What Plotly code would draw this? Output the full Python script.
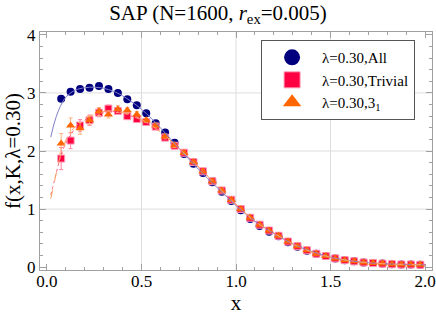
import plotly.graph_objects as go

# ---------------- data ----------------
x_pts = [0.075, 0.125, 0.175, 0.225, 0.275, 0.325, 0.375, 0.425, 0.475, 0.525,
         0.575, 0.625, 0.675, 0.725, 0.775, 0.825, 0.875, 0.925, 0.975, 1.025,
         1.075, 1.125, 1.175, 1.225, 1.275, 1.325, 1.375, 1.425, 1.475, 1.525,
         1.575, 1.625, 1.675, 1.725, 1.775, 1.825, 1.875, 1.925, 1.975]

y_all = [2.90, 3.02, 3.07, 3.09, 3.12, 3.07, 3.00, 2.89, 2.79, 2.65,
         2.48, 2.32, 2.14, 1.95, 1.78, 1.62, 1.46, 1.30, 1.14, 0.98,
         0.83, 0.71, 0.61, 0.53, 0.43, 0.35, 0.28, 0.23, 0.19, 0.15,
         0.12, 0.10, 0.08, 0.07, 0.06, 0.05, 0.045, 0.045, 0.04]

y_triv = [1.87, 2.18, 2.44, 2.53, 2.66, 2.73, 2.69, 2.60, 2.55, 2.50,
          2.42, 2.23, 2.09, 1.97, 1.81, 1.65, 1.48, 1.32, 1.16, 1.00,
          0.85, 0.73, 0.63, 0.54, 0.44, 0.36, 0.29, 0.23, 0.19, 0.15,
          0.12, 0.10, 0.08, 0.07, 0.06, 0.05, 0.045, 0.045, 0.04]
e_triv = [0.19, 0.14, 0.10, 0.09, 0.07, 0.06, 0.06, 0.05, 0.05, 0.04,
          0.04, 0.04, 0.04, 0.03, 0.03, 0.03, 0.03, 0.03, 0.03, 0.03,
          0.02, 0.02, 0.02, 0.02, 0.02, 0.02, 0.02, 0.02, 0.01, 0.01,
          0.01, 0.01, 0.01, 0.01, 0.01, 0.01, 0.01, 0.01, 0.01]

y_knot = [2.13, 2.44, 2.39, 2.53, 2.68, 2.63, 2.72, 2.70, 2.63, 2.53,
          2.44, 2.25, 2.10, 1.97, 1.81, 1.65, 1.48, 1.32, 1.16, 1.00,
          0.85, 0.73, 0.63, 0.54, 0.44, 0.36, 0.29, 0.23, 0.19, 0.15,
          0.12, 0.10, 0.08, 0.07, 0.06, 0.05, 0.045, 0.045, 0.04]
e_knot = [0.17, 0.13, 0.10, 0.08, 0.07, 0.06, 0.06, 0.05, 0.05, 0.04,
          0.04, 0.04, 0.04, 0.03, 0.03, 0.03, 0.03, 0.03, 0.03, 0.03,
          0.02, 0.02, 0.02, 0.02, 0.02, 0.02, 0.02, 0.02, 0.01, 0.01,
          0.01, 0.01, 0.01, 0.01, 0.01, 0.01, 0.01, 0.01, 0.01]

# fitted curves
x_fit = [0.02, 0.04, 0.06, 0.08, 0.10, 0.125, 0.15, 0.20, 0.25, 0.30, 0.35, 0.40,
         0.50, 0.60, 0.70, 0.80, 0.90, 1.00, 1.10, 1.20, 1.30, 1.40, 1.50, 1.60,
         1.70, 1.80, 1.90, 2.00]
fit_all = [2.24, 2.50, 2.69, 2.83, 2.93, 3.00, 3.05, 3.09, 3.10, 3.08, 3.03, 2.95,
           2.72, 2.40, 2.04, 1.69, 1.37, 1.06, 0.79, 0.58, 0.40, 0.27, 0.17, 0.11,
           0.075, 0.055, 0.045, 0.04]
fit_triv = [1.24, 1.50, 1.76, 1.98, 2.14, 2.28, 2.39, 2.53, 2.62, 2.67, 2.68, 2.65,
            2.53, 2.33, 2.04, 1.73, 1.40, 1.08, 0.79, 0.585, 0.40, 0.26, 0.17, 0.11,
            0.075, 0.055, 0.045, 0.04]
fit_knot = [1.18, 1.48, 1.78, 2.02, 2.19, 2.33, 2.42, 2.55, 2.63, 2.68, 2.69, 2.66,
            2.54, 2.33, 2.04, 1.73, 1.40, 1.08, 0.79, 0.585, 0.40, 0.26, 0.17, 0.11,
            0.075, 0.055, 0.045, 0.04]

labels = ["λ=0.30,All", "λ=0.30,Trivial", "λ=0.30,3<sub>1</sub>"]
title_text = "SAP (N=1600, <i>r</i><sub>ex</sub>=0.005)"
x_title = "x"
y_title = "f(x,K,λ=0.30)"
x_ticks = [0.0, 0.5, 1.0, 1.5, 2.0]
y_ticks = [0, 1, 2, 3, 4]
grid_x = [0.5, 1.0, 1.5]
grid_y = [1, 2, 3]

BLUE = "#00007f"
RED = "#ff0040"
ORANGE = "#ff6600"
SERIF = "Times New Roman"

fig = go.Figure()

# markers
fig.add_trace(go.Scatter(x=x_pts, y=y_all, mode="markers", showlegend=False,
                         marker=dict(symbol="circle", size=8, color=BLUE)))
fig.add_trace(go.Scatter(x=x_pts, y=y_triv, mode="markers", showlegend=False,
                         error_y=dict(type="data", array=e_triv, color="#ff80a0",
                                      thickness=1, width=2),
                         marker=dict(symbol="square", size=7, color=RED,
                                     line=dict(color="#ff99b3", width=1))))
fig.add_trace(go.Scatter(x=x_pts, y=y_knot, mode="markers", showlegend=False,
                         error_y=dict(type="data", array=e_knot, color="#ffb080",
                                      thickness=1, width=2),
                         marker=dict(symbol="triangle-up", size=8, color=ORANGE)))

# fit curves
fig.add_trace(go.Scatter(x=x_fit, y=fit_all, mode="lines", showlegend=False,
                         line=dict(color="#8080c8", width=1, shape="spline")))
fig.add_trace(go.Scatter(x=x_fit, y=fit_triv, mode="lines", showlegend=False,
                         line=dict(color="#ff6080", width=1, dash="dot", shape="spline")))
fig.add_trace(go.Scatter(x=x_fit, y=fit_knot, mode="lines", showlegend=False,
                         line=dict(color="#ffa060", width=1, dash="dash", shape="spline")))

# legend entries
fig.add_trace(go.Scatter(x=[None], y=[None], mode="markers", name=labels[0],
                         marker=dict(symbol="circle", size=20, color=BLUE)))
fig.add_trace(go.Scatter(x=[None], y=[None], mode="markers", name=labels[1],
                         marker=dict(symbol="square", size=20, color=RED,
                                     line=dict(color="#ff99b3", width=1))))
fig.add_trace(go.Scatter(x=[None], y=[None], mode="markers", name=labels[2],
                         marker=dict(symbol="triangle-up", size=20, color=ORANGE)))

# grid lines
for gx in grid_x:
    fig.add_shape(type="line", xref="x", yref="paper", x0=gx, x1=gx, y0=0, y1=1,
                  line=dict(color="#dddddd", width=1), layer="below")
for gy in grid_y:
    fig.add_shape(type="line", xref="paper", yref="y", x0=0, x1=1, y0=gy, y1=gy,
                  line=dict(color="#dddddd", width=1), layer="below")

axis_common = dict(showgrid=False, zeroline=False, showline=True, linecolor="#a0a0a0",
                   linewidth=1, mirror="ticks", ticks="inside", ticklen=6,
                   tickcolor="#a0a0a0", automargin=False,
                   tickfont=dict(family=SERIF, size=17, color="black"))

fig.update_xaxes(range=[-0.037, 2.037], tickvals=x_ticks,
                 ticktext=[f"{v:.1f}" for v in x_ticks],
                 ticklabelstandoff=-4,
                 minor=dict(dtick=0.1, ticks="inside", ticklen=3, tickcolor="#a0a0a0"),
                 title=dict(text=x_title, font=dict(family=SERIF, size=21, color="black"),
                            standoff=2),
                 **axis_common)
fig.update_yaxes(range=[-0.05, 4.05], tickvals=y_ticks,
                 minor=dict(dtick=0.2, ticks="inside", ticklen=3, tickcolor="#a0a0a0"),
                 title=dict(text=y_title, font=dict(family=SERIF, size=21, color="black"),
                            standoff=0),
                 **axis_common)

fig.update_layout(
    width=436, height=321,
    margin=dict(l=40, r=4, t=32, b=51),
    paper_bgcolor="white", plot_bgcolor="white",
    title=dict(text=title_text, x=0.5, xanchor="center", y=0.962, yanchor="middle",
               font=dict(family=SERIF, size=21, color="black")),
    legend=dict(x=0.564, y=0.966, xanchor="left", yanchor="top",
                bordercolor="#555555", borderwidth=1, bgcolor="white",
                font=dict(family=SERIF, size=15, color="black"),
                itemwidth=50, tracegroupgap=0),
    showlegend=True,
)

fig.write_html("out.html", config={"displayModeBar": False},
               post_script="document.body.style.margin='0';")
